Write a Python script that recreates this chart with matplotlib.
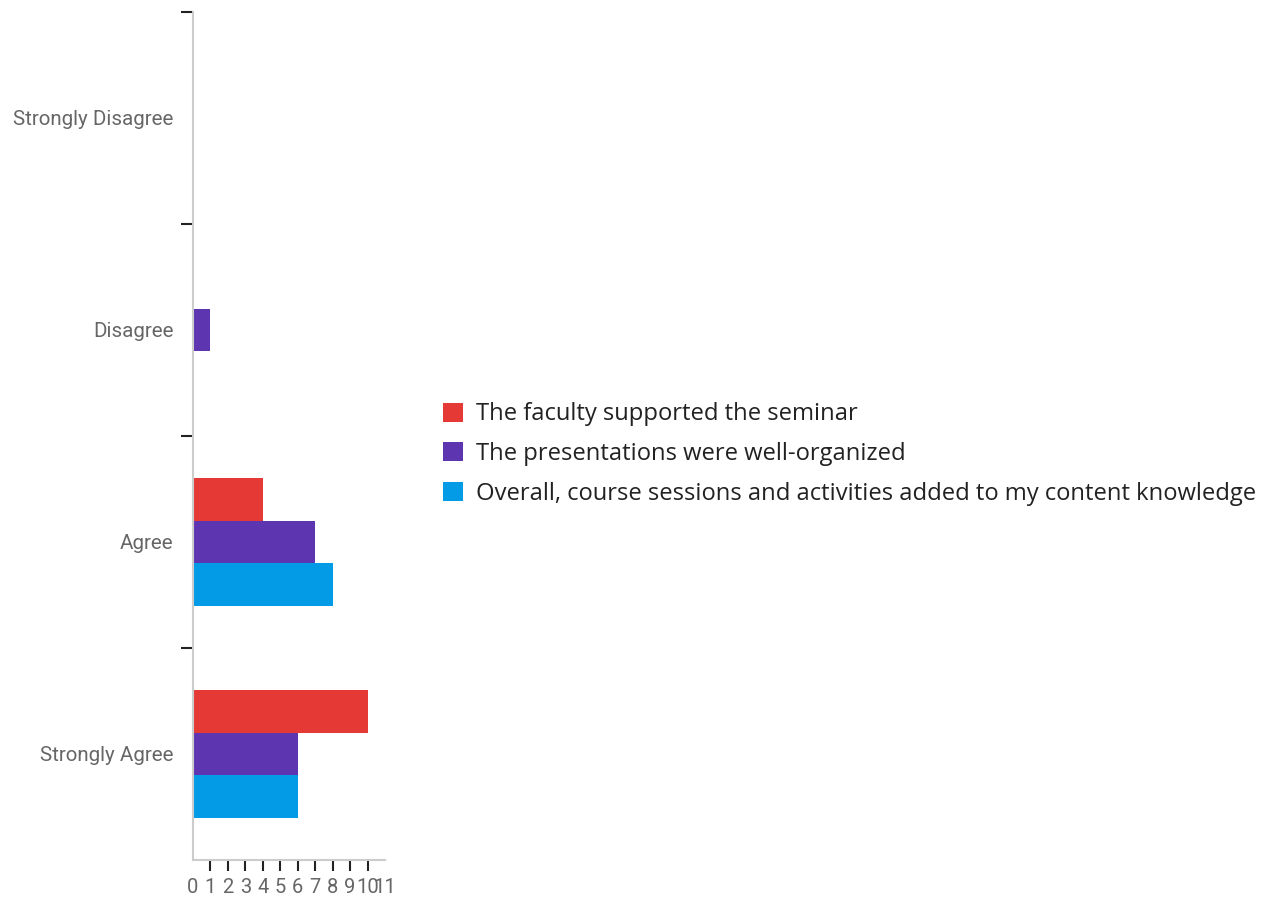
import matplotlib
matplotlib.use('Agg')
import numpy as np
from matplotlib import pyplot as plt
from matplotlib.patches import Patch

categories = ['Strongly Disagree', 'Disagree', 'Agree', 'Strongly Agree']
series_names = [
    'The faculty supported the seminar',
    'The presentations were well-organized',
    'Overall, course sessions and activities added to my content knowledge',
]
faculty = [0, 0, 4, 10]
presentations = [0, 1, 7, 6]
overall = [0, 0, 8, 6]
colors = ['#E53935', '#5E35B1', '#039BE5']

fig = plt.figure(figsize=(12.73, 9.02), dpi=100)
ax = fig.add_axes([0.1516, 0.0466, 0.1508, 0.9401])

y = np.arange(len(categories))
h = 0.2
for i, (vals, c) in enumerate(zip([faculty, presentations, overall], colors)):
    ax.barh(y + (i - 1) * h, vals, height=h, color=c, linewidth=0)

ax.set_ylim(3.5, -0.5)
ax.set_xlim(0, 11)

tick_font = ['Roboto', 'DejaVu Sans']
ax.set_yticks(y)
ax.set_yticklabels(categories, family=tick_font, fontsize=14.8, color='#666666')
ax.set_yticks([-0.5, 0.5, 1.5, 2.5], minor=True)
ax.tick_params(axis='y', which='major', length=0, pad=14)
ax.tick_params(axis='y', which='minor', length=9, width=1.5, color='#222222')

ax.set_xticks(range(0, 12))
ax.set_xticklabels([str(v) for v in range(0, 12)], family=tick_font, fontsize=14.5, color='#666666')
ax.tick_params(axis='x', which='major', length=8, width=1.5, color='#222222', pad=5)
xt = ax.xaxis.get_major_ticks()
xt[0].tick1line.set_visible(False)
xt[-1].tick1line.set_visible(False)

for s in ['top', 'right']:
    ax.spines[s].set_visible(False)
for s in ['left', 'bottom']:
    ax.spines[s].set_color('#cccccc')
    ax.spines[s].set_linewidth(1.5)

handles = [Patch(facecolor=c, edgecolor='none') for c in colors]
fig.legend(handles, series_names, loc='upper left', bbox_to_anchor=(0.348, 0.554),
           frameon=False, prop={'family': ['Open Sans', 'DejaVu Sans'], 'size': 17.1},
           labelcolor='#222222', handlelength=0.85, handleheight=0.85,
           handletextpad=0.55, labelspacing=0.66, borderaxespad=0, borderpad=0)

fig.savefig('out.png', dpi=100)
